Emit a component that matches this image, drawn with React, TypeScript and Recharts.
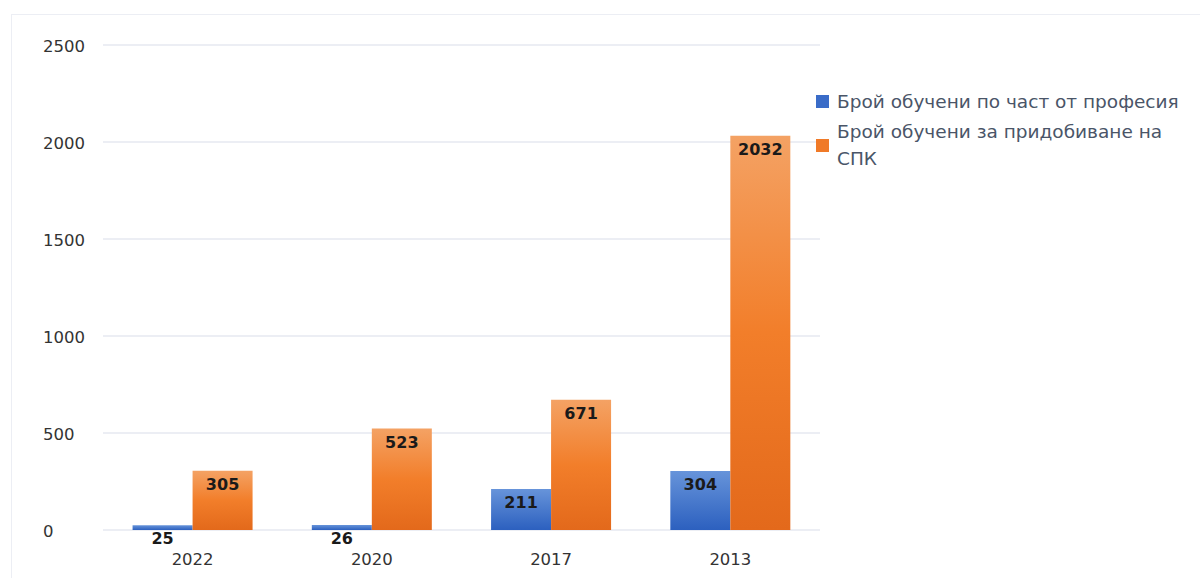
import React from "react";
import { BarChart, Bar, XAxis, YAxis, CartesianGrid, Legend, LabelList } from "recharts";

const categories = ["2022", "2020", "2017", "2013"];
const partProfession = [25, 26, 211, 304];
const spk = [305, 523, 671, 2032];
const yTicks = [0, 500, 1000, 1500, 2000, 2500];
const seriesNames = ["Брой обучени по част от професия", "Брой обучени за придобиване на СПК"];

const data = categories.map((c, i) => ({ year: c, a: partProfession[i], b: spk[i] }));

const FONT = "'DejaVu Sans', sans-serif";

const YTick = (props: any) => {
  const { y, payload } = props;
  return (
    <text x={43} y={y} dy={7} textAnchor="start" fontFamily={FONT} fontSize={16.5} fill="#333">
      {payload.value}
    </text>
  );
};

const XTick = (props: any) => {
  const { x, y, payload } = props;
  return (
    <text x={x} y={y + 27} textAnchor="middle" fontFamily={FONT} fontSize={16.5} fill="#333">
      {payload.value}
    </text>
  );
};

const ValueLabel = (props: any) => {
  const { x, y, width, value } = props;
  return (
    <text x={x + width / 2} y={y + 19} textAnchor="middle" fontFamily={FONT} fontSize={16} fontWeight={700} fill="#1a1a1a">
      {value}
    </text>
  );
};

const LegendContent = () => {
  const colors = ["#3a6cc8", "#f07a28"];
  return (
    <div style={{ fontFamily: FONT, fontSize: 18.5, color: "#4a5568", width: 380 }}>
      {seriesNames.map((n, i) => (
        <div key={n} style={{ display: "flex", alignItems: "center", marginBottom: 3 }}>
          <div style={{ width: 13, height: 13, background: colors[i], marginRight: 8, flexShrink: 0 }} />
          <div style={{ lineHeight: "27px", width: 350 }}>{n}</div>
        </div>
      ))}
    </div>
  );
};

export default function App() {
  return (
    <div style={{ position: "absolute", left: 0, top: 0, width: 1200, height: 578, background: "#fff" }}>
      <div style={{ position: "absolute", left: 11, top: 14, right: 0, bottom: 0, borderTop: "1.5px solid #eceef4", borderLeft: "1.5px solid #eceef4" }} />
      <div style={{ position: "absolute", left: 0, top: 0 }}>
        <BarChart
          width={1200}
          height={578}
          data={data}
          margin={{ top: 45, right: 0, bottom: 0, left: 0 }}
          barGap={0}
          barCategoryGap="16.5%"
        >
          <defs>
            <linearGradient id="gBlue" x1="0" y1="0" x2="0" y2="1">
              <stop offset="0%" stopColor="#6794da" />
              <stop offset="100%" stopColor="#2c60bf" />
            </linearGradient>
            <linearGradient id="gOrange" x1="0" y1="0" x2="0" y2="1">
              <stop offset="0%" stopColor="#f4a264" />
              <stop offset="50%" stopColor="#f27e2a" />
              <stop offset="100%" stopColor="#e3691b" />
            </linearGradient>
          </defs>
          <CartesianGrid vertical={false} stroke="#eceef4" strokeWidth={2} />
          <XAxis dataKey="year" height={48} tick={<XTick />} tickLine={false} axisLine={false} />
          <YAxis width={103} domain={[0, 2500]} ticks={yTicks} tick={<YTick />} tickLine={false} axisLine={false} />
          <Legend
            layout="vertical"
            verticalAlign="top"
            align="right"
            content={<LegendContent />}
            wrapperStyle={{ left: 816, top: 88, width: 380 }}
          />
          <Bar dataKey="a" name={seriesNames[0]} fill="url(#gBlue)" isAnimationActive={false}>
            <LabelList dataKey="a" content={<ValueLabel />} />
          </Bar>
          <Bar dataKey="b" name={seriesNames[1]} fill="url(#gOrange)" isAnimationActive={false}>
            <LabelList dataKey="b" content={<ValueLabel />} />
          </Bar>
        </BarChart>
      </div>
    </div>
  );
}
